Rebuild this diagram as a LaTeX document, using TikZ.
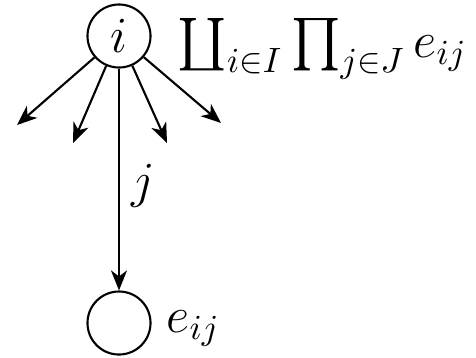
\documentclass[tikz,border=0pt]{standalone}
\usepackage{amsmath,amssymb}
\usetikzlibrary{arrows.meta,positioning}

\begin{document}
\begin{tikzpicture}[x=0.01cm,y=-0.01cm,>={Stealth[length=2mm,width=1.6mm,inset=0.6mm]},
    obj/.style={draw,circle,line width=0.6pt,minimum size=0.63cm,inner sep=0pt,font=\Large},
    lbl/.style={font=\Large}]
  \useasboundingbox (0,0) rectangle (476,357);
  \node[obj] (i) at (119,36) {$i$};
  \node[obj] (e) at (119,323) {};
  \node[anchor=base west,inner sep=0pt,font=\fontsize{14.9}{18}\selectfont] (prod) at (177,57) {$\coprod_{i\in I}\prod_{j\in J}e_{ij}$};
  \node[lbl,anchor=base west,inner sep=0pt] (eij) at (166,332) {$e_{ij}$};
  % free ends of the outgoing arrows
  \coordinate (a1) at (17,125);
  \coordinate (a2) at (73,143);
  \coordinate (a3) at (167,143);
  \coordinate (a4) at (221,123);
  \draw[->,line width=0.6pt] (i) -- (a1);
  \draw[->,line width=0.6pt] (i) -- (a2);
  \draw[->,line width=0.6pt] (i) -- (a3);
  \draw[->,line width=0.6pt] (i) -- (a4);
  \draw[->,line width=0.6pt] (i) -- (e) node[lbl,pos=0.53,right] {$j$};
\end{tikzpicture}
\end{document}
